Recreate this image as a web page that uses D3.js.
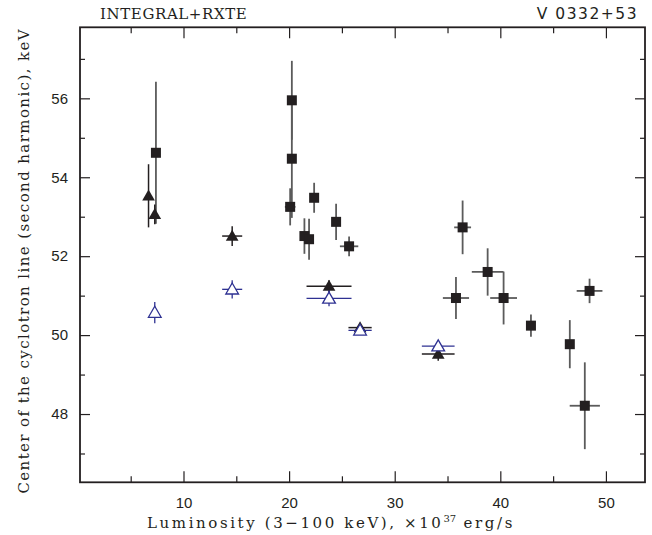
<!DOCTYPE html>
<html><head><meta charset="utf-8">
<script src="https://cdn.jsdelivr.net/npm/d3@7"></script>
<style>body{margin:0;background:#fff}svg{display:block}</style>
</head><body>
<script>
// Filled squares: luminosity, center energy, x error, y error
const sqX  = [7.39, 20.26, 20.26, 20.10, 22.37, 21.45, 21.89, 24.45, 25.68, 36.43, 38.80, 40.31, 35.80, 42.90, 46.58, 48.45, 48.00];
const sqY  = [54.62, 55.95, 54.47, 53.25, 53.48, 52.51, 52.43, 52.87, 52.25, 52.73, 51.60, 50.94, 50.94, 50.24, 49.77, 51.12, 48.21];
const sqXe = [0.0, 0.0, 0.15, 0.5, 0.0, 0.0, 0.0, 0.0, 0.87, 0.8, 1.5, 1.27, 1.24, 0.0, 0.0, 1.22, 1.43];
const sqYe = [1.8, 1.0, 1.5, 0.47, 0.38, 0.45, 0.52, 0.46, 0.25, 0.68, 0.6, 0.67, 0.53, 0.28, 0.61, 0.31, 1.1];
// Filled triangles
const ftX  = [6.69, 7.28, 14.61, 23.78, 26.72, 34.12];
const ftY  = [53.53, 53.06, 52.51, 51.24, 50.19, 49.52];
const ftXe = [0.0, 0.0, 0.95, 2.13, 1.1, 1.55];
const ftYe = [0.8, 0.25, 0.25, 0.15, 0.05, 0.17];
// Open triangles (blue)
const otX  = [7.28, 14.61, 23.78, 26.72, 34.12];
const otY  = [50.57, 51.16, 50.93, 50.12, 49.72];
const otXe = [0.0, 0.95, 2.13, 1.1, 1.55];
const otYe = [0.27, 0.23, 0.2, 0.05, 0.1];

const xMajor = [10, 20, 30, 40, 50];
const xMinor = [5, 15, 25, 35, 45];
const yMajor = [48, 50, 52, 54, 56];
const yMinor = [47, 49, 51, 53, 55, 57];

const W = 652, H = 535;
const L = 80, R = 645, T = 27.3, B = 482.3;
const svg = d3.select("body").append("svg").attr("width", W).attr("height", H);

const x = d3.scaleLinear().domain([0.2, 53.7]).range([L, R]);
const y = d3.scaleLinear().domain([46.27, 57.8]).range([B, T]);

const ink = "#231f20", blue = "#2e3192";

function axisTicks(axisGen, tr, vals, size, fmt) {
  const g = svg.append("g").attr("transform", tr)
    .call(axisGen.tickValues(vals).tickSize(size).tickSizeOuter(0).tickPadding(8).tickFormat(fmt));
  g.select(".domain").remove();
  g.selectAll(".tick line").attr("stroke", ink).attr("stroke-width", 1.2);
  return g;
}
const none = () => "";
const gb = axisTicks(d3.axisBottom(x), `translate(0,${B})`, xMajor, -11, d3.format("d"));
gb.selectAll("text").attr("y", 15).attr("dy", "0.71em");
axisTicks(d3.axisBottom(x), `translate(0,${B})`, xMinor, -6, none);
axisTicks(d3.axisTop(x), `translate(0,${T})`, xMajor, -11, none);
axisTicks(d3.axisTop(x), `translate(0,${T})`, xMinor, -6, none);
const gl = axisTicks(d3.axisLeft(y), `translate(${L},0)`, yMajor, -10, d3.format("d"));
gl.selectAll("text").attr("x", -12);
axisTicks(d3.axisLeft(y), `translate(${L},0)`, yMinor, -5, none);
axisTicks(d3.axisRight(y), `translate(${R},0)`, yMajor, -10, none);
axisTicks(d3.axisRight(y), `translate(${R},0)`, yMinor, -5, none);

svg.selectAll(".tick text").attr("font-family", "Liberation Sans, Arial, sans-serif")
  .attr("font-size", 15).attr("fill", ink);

svg.append("rect").attr("x", L).attr("y", T).attr("width", R - L).attr("height", B - T)
  .attr("fill", "none").attr("stroke", ink).attr("stroke-width", 1.8);

function errBars(xs, ys, xe, ye, color, w) {
  const g = svg.append("g").attr("stroke", color).attr("stroke-width", w);
  xs.forEach((v, i) => {
    if (ye[i] > 0) g.append("line").attr("x1", x(v)).attr("x2", x(v))
      .attr("y1", y(ys[i] - ye[i])).attr("y2", y(ys[i] + ye[i]));
    if (xe[i] > 0) g.append("line").attr("y1", y(ys[i])).attr("y2", y(ys[i]))
      .attr("x1", x(v - xe[i])).attr("x2", x(v + xe[i]));
  });
}
const tri = d3.symbol().type(d3.symbolTriangle).size(70);

errBars(sqX, sqY, sqXe, sqYe, "#5b5b5b", 1.8);
svg.append("g").selectAll("rect").data(sqX).join("rect")
  .attr("x", (d) => x(d) - 5).attr("y", (d, i) => y(sqY[i]) - 5)
  .attr("width", 10).attr("height", 10).attr("fill", ink);

errBars(ftX, ftY, ftXe, ftYe, ink, 1.5);
svg.append("g").selectAll("path").data(ftX).join("path")
  .attr("d", tri).attr("transform", (d, i) => `translate(${x(d)},${y(ftY[i]) + 1})`)
  .attr("fill", ink);

errBars(otX, otY, otXe, otYe, blue, 1.3);
svg.append("g").selectAll("path").data(otX).join("path")
  .attr("d", tri).attr("transform", (d, i) => `translate(${x(d)},${y(otY[i]) + 1})`)
  .attr("fill", "#fff").attr("stroke", blue).attr("stroke-width", 1.3);

svg.append("text").attr("x", 100).attr("y", 19).attr("font-family", "DejaVu Serif, serif")
  .attr("font-size", 15).attr("letter-spacing", 0.6).attr("fill", ink).text("INTEGRAL+RXTE");
svg.append("text").attr("x", 638).attr("y", 19).attr("text-anchor", "end")
  .attr("font-family", "DejaVu Sans, sans-serif").attr("font-size", 15.5).attr("letter-spacing", 1.5)
  .attr("fill", ink).text("V 0332+53");

const xl = svg.append("text").attr("x", 331).attr("y", 528).attr("text-anchor", "middle")
  .attr("font-family", "DejaVu Serif, serif").attr("font-size", 15).attr("letter-spacing", 2.6)
  .attr("fill", ink);
xl.append("tspan").text("Luminosity (3\u2212100 keV), \u00d710");
xl.append("tspan").attr("font-size", 10).attr("dy", -6).attr("letter-spacing", 0).text("37");
xl.append("tspan").attr("dy", 6).text(" erg/s");

svg.append("text").attr("transform", `translate(29,${(T + B) / 2 + 6}) rotate(-90)`)
  .attr("text-anchor", "middle").attr("font-family", "DejaVu Serif, serif").attr("font-size", 15)
  .attr("letter-spacing", 1.4).attr("fill", ink)
  .text("Center of the cyclotron line (second harmonic), keV");
</script>
</body></html>
